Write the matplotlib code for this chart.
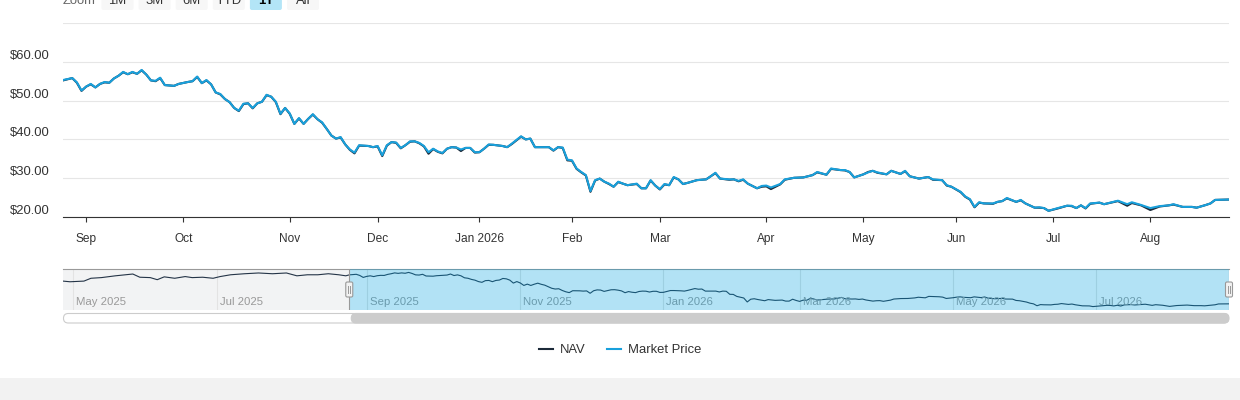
import matplotlib
matplotlib.use("Agg")
import matplotlib.pyplot as plt
from matplotlib import transforms
from matplotlib.patches import FancyBboxPatch, Rectangle

plt.rcParams["font.family"] = ["Liberation Sans", "DejaVu Sans"]

# x is the trading session number, 0 = first session of the 1Y window (ordinal axis)
session = [
    0, 2, 3, 4, 5, 6, 7, 8, 9, 10,
    11, 12, 13, 14, 15, 16, 17, 18, 19, 20,
    21, 22, 24, 25, 27, 28, 29, 30, 31, 32,
    33, 34, 35, 36, 37, 38, 39, 40, 41, 42,
    43, 44, 45, 46, 47, 48, 49, 50, 51, 52,
    53, 54, 55, 56, 57, 58, 59, 60, 61, 62,
    63, 64, 66, 67, 68, 69, 70, 71, 72, 73,
    74, 75, 76, 77, 78, 79, 80, 81, 82, 83,
    84, 85, 86, 87, 88, 89, 90, 91, 92, 93,
    95, 96, 97, 99, 100, 101, 102, 103, 105, 106,
    107, 108, 109, 110, 111, 112, 113, 114, 115, 116,
    117, 118, 119, 120, 121, 122, 124, 125, 126, 127,
    128, 129, 130, 131, 132, 133, 134, 135, 137, 139,
    140, 141, 142, 144, 145, 146, 147, 148, 150, 151,
    152, 153, 155, 156, 158, 160, 162, 163, 165, 166,
    168, 169, 170, 171, 173, 174, 175, 176, 178, 179,
    181, 182, 183, 185, 187, 188, 190, 191, 192, 194,
    195, 196, 197, 198, 199, 201, 202, 203, 204, 206,
    207, 208, 210, 211, 212, 213, 215, 217, 218, 219,
    220, 221, 222, 224, 225, 228, 230, 231, 233, 235,
    237, 239, 240, 242, 244, 245, 247, 248, 249, 252,
]

market_price = [
    55.3, 55.8, 54.7, 52.6, 53.6, 54.3, 53.4, 54.3, 54.8, 54.6,
    55.7, 56.4, 57.4, 56.8, 57.4, 56.9, 57.9, 56.7, 55.2, 55.1,
    55.9, 54.0, 53.8, 54.3, 54.8, 55.0, 56.2, 54.5, 55.3, 54.2,
    52.1, 51.7, 50.4, 49.6, 48.1, 47.4, 49.2, 49.3, 48.1, 49.3,
    49.7, 51.5, 51.0, 49.7, 46.6, 48.1, 46.7, 44.0, 45.5, 44.0,
    45.3, 46.5, 45.2, 44.4, 42.7, 41.0, 40.2, 40.6, 38.7, 37.4,
    36.6, 38.5, 38.3, 38.0, 38.3, 35.9, 38.5, 39.3, 39.2, 37.8,
    38.5, 39.5, 39.5, 39.1, 38.3, 36.7, 37.6, 36.9, 36.5, 37.6,
    38.0, 37.9, 37.4, 37.8, 37.8, 36.7, 36.7, 37.6, 38.7, 38.6,
    38.3, 38.0, 38.9, 40.8, 40.0, 40.2, 38.0, 38.0, 38.0, 37.2,
    38.0, 37.9, 34.8, 34.6, 32.5, 31.6, 30.8, 26.7, 29.5, 29.9,
    29.1, 28.6, 27.8, 29.1, 28.6, 28.2, 28.6, 27.4, 27.4, 29.5,
    28.1, 27.2, 28.5, 28.2, 30.3, 29.7, 28.5, 28.8, 29.5, 29.7,
    30.5, 31.4, 29.9, 29.7, 29.7, 29.3, 29.7, 28.6, 27.4, 28.0,
    28.1, 27.6, 28.5, 29.7, 30.1, 30.2, 30.8, 31.6, 30.9, 32.5,
    32.1, 32.1, 31.6, 30.2, 31.0, 31.5, 31.9, 31.5, 31.0, 31.9,
    31.1, 31.9, 30.5, 29.9, 30.3, 29.7, 29.5, 28.2, 27.8, 26.5,
    25.3, 24.6, 22.6, 23.8, 23.5, 23.5, 23.9, 24.1, 24.9, 23.9,
    24.4, 23.5, 22.4, 22.5, 22.3, 21.6, 22.3, 22.9, 22.9, 22.3,
    23.0, 22.3, 23.5, 23.7, 23.3, 24.2, 23.3, 23.8, 23.1, 22.3,
    22.8, 23.0, 23.3, 22.6, 22.6, 22.4, 23.1, 23.5, 24.4, 24.5,
]

nav = [
    55.2, 55.8, 54.6, 52.5, 53.6, 54.2, 53.4, 54.3, 54.7, 54.6,
    55.7, 56.4, 57.3, 56.8, 57.3, 56.9, 57.8, 56.7, 55.2, 55.0,
    55.8, 54.0, 53.8, 54.3, 54.8, 55.0, 56.1, 54.5, 55.2, 54.2,
    52.1, 51.6, 50.4, 49.6, 48.1, 47.3, 49.1, 49.3, 48.0, 49.3,
    49.7, 51.4, 51.0, 49.6, 46.5, 48.1, 46.6, 44.0, 45.4, 44.0,
    45.3, 46.4, 45.2, 44.3, 42.7, 41.0, 40.2, 40.5, 38.7, 37.3,
    36.4, 38.4, 38.3, 38.0, 38.2, 35.7, 38.4, 39.3, 39.1, 37.7,
    38.5, 39.4, 39.5, 39.0, 38.2, 36.3, 37.5, 36.8, 36.4, 37.6,
    38.0, 37.9, 37.0, 37.8, 37.8, 36.6, 36.7, 37.6, 38.6, 38.6,
    38.3, 38.0, 38.8, 40.7, 40.0, 40.2, 38.0, 38.0, 38.0, 37.1,
    38.0, 37.8, 34.6, 34.5, 32.4, 31.5, 30.7, 26.5, 29.4, 29.9,
    29.1, 28.5, 27.8, 29.0, 28.6, 28.2, 28.5, 27.4, 27.4, 29.4,
    28.1, 27.1, 28.4, 28.2, 30.2, 29.7, 28.5, 28.8, 29.5, 29.7,
    30.5, 31.3, 29.9, 29.6, 29.7, 29.2, 29.6, 28.6, 27.4, 27.8,
    27.9, 27.2, 28.4, 29.6, 30.1, 30.2, 30.8, 31.5, 30.9, 32.4,
    32.1, 32.0, 31.6, 30.2, 31.0, 31.6, 31.9, 31.4, 31.0, 31.9,
    31.1, 31.8, 30.5, 29.9, 30.3, 29.6, 29.5, 28.1, 27.8, 26.4,
    25.2, 24.5, 22.5, 23.7, 23.5, 23.4, 23.9, 24.1, 24.8, 23.9,
    24.3, 23.5, 22.4, 22.4, 22.3, 21.6, 22.2, 22.9, 22.8, 22.3,
    23.0, 22.2, 23.4, 23.7, 23.3, 24.1, 22.9, 23.6, 23.0, 21.8,
    22.7, 23.0, 23.2, 22.6, 22.6, 22.4, 23.1, 23.5, 24.4, 24.5,
]

# older NAV history, only seen in the navigator
hist_session = [-82, -80, -76, -74, -71, -67, -62, -60, -57, -55,
                -53, -50, -47, -45, -42, -39, -37, -34, -30, -26,
                -22, -18, -15, -12, -9, -6, -3, -1]
hist_nav = [48.6, 47.9, 48.6, 51.6, 52.3, 54.2, 56.1, 52.7, 52.3, 50.1,
            53.1, 51.6, 53.4, 52.3, 52.7, 51.6, 53.4, 55.3, 56.4, 57.2,
            56.4, 57.2, 54.2, 55.3, 55.3, 56.4, 55.3, 54.2]

month_session = [5, 26, 49, 68, 90, 110, 129, 152, 173, 193, 214, 235]
month_labels = ["Sep", "Oct", "Nov", "Dec", "Jan 2026", "Feb", "Mar", "Apr", "May", "Jun", "Jul", "Aug"]

nav_month_session = [-79, -38, 5, 49, 90, 129, 173, 214]
nav_month_labels = ["May 2025", "Jul 2025", "Sep 2025", "Nov 2025", "Jan 2026", "Mar 2026", "May 2026", "Jul 2026"]

price_ticks = [20, 30, 40, 50, 60, 70]
zoom_buttons = ["1M", "3M", "6M", "YTD", "1Y", "All"]
selected_button = "1Y"

NAV_COLOR = "#1c2a39"
PRICE_COLOR = "#18a0dc"
TEXT = "#333333"

W, H = 1240, 400
fig = plt.figure(figsize=(W / 100, H / 100), dpi=100)


def box(left, top, right, bottom):
    # pixel box measured from the top-left -> figure fraction rect
    return [left / W, 1 - bottom / H, (right - left) / W, (bottom - top) / H]


# main chart
ax = fig.add_axes(box(63, 23, 1229, 217))
ax.plot(session, nav, color=NAV_COLOR, lw=1.5, solid_joinstyle="round", label="NAV")
ax.plot(session, market_price, color=PRICE_COLOR, lw=1.5, solid_joinstyle="round", label="Market Price")
ax.set_xlim(session[0], session[-1])
ax.set_ylim(price_ticks[0], price_ticks[-1])
ax.set_yticks(price_ticks)
ax.yaxis.grid(True, color="#e6e6e6", lw=0.8)
ax.set_axisbelow(True)
ax.tick_params(axis="y", length=0, labelleft=False)
for side in ["top", "left", "right"]:
    ax.spines[side].set_visible(False)
ax.spines["bottom"].set_color(TEXT)
ax.spines["bottom"].set_linewidth(0.8)
ax.set_xticks(month_session, month_labels)
ax.tick_params(axis="x", length=3.8, width=0.8, color=TEXT, pad=8,
               labelsize=8.6, labelcolor=TEXT)

ylab = transforms.blended_transform_factory(fig.transFigure, ax.transData) + \
    transforms.ScaledTranslation(0, 6 / 100, fig.dpi_scale_trans)
for v in price_ticks[:-1]:
    ax.text(10 / W, v, f"\\${v:.2f}", transform=ylab, ha="left", va="center",
            fontsize=9.4, color=TEXT)

# navigator
nax = fig.add_axes(box(63, 269, 1229, 310))
nav_x = hist_session + session
nav_y = hist_nav + nav
lo, hi = min(nav_y), max(nav_y)
pad = 0.1 * (hi - lo)
nax.set_xlim(nav_x[0], nav_x[-1])
nax.set_ylim(lo - pad, hi + pad)
nax.axvspan(nav_x[0], session[0], color="#f2f3f4", lw=0, zorder=0)
for s in nav_month_session:
    nax.axvline(s, color="#e3e3e3", lw=0.8, zorder=1)
nax.plot(nav_x, nav_y, color="#243447", lw=0.8, zorder=2)
nlab = transforms.blended_transform_factory(nax.transData, nax.transAxes) + \
    transforms.ScaledTranslation(3 / 100, 0, fig.dpi_scale_trans)
for s, t in zip(nav_month_session, nav_month_labels):
    nax.text(s, 0.12, t, transform=nlab, ha="left", va="baseline",
             fontsize=8.2, color="#999999", zorder=3)
nax.axvspan(session[0], session[-1], color=(0, 161 / 255, 222 / 255), alpha=0.3, lw=0, zorder=4)
for s in (session[0], session[-1]):
    nax.axvline(s, color="#999999", lw=0.8, zorder=5)
nax.set_xticks([])
nax.set_yticks([])
for side in ["left", "right", "bottom"]:
    nax.spines[side].set_visible(False)
nax.spines["top"].set_color("#999999")
nax.spines["top"].set_linewidth(0.8)

# chrome drawn in pixel space: buttons, handles, scrollbar, footer band
over = fig.add_axes([0, 0, 1, 1], zorder=10)
over.set_xlim(0, W)
over.set_ylim(H, 0)
over.axis("off")

over.text(63, 4, "Zoom", fontsize=9.4, color="#666666", ha="left", va="baseline")
for i, b in enumerate(zoom_buttons):
    bx = 101.5 + i * 37.1
    sel = b == selected_button
    over.add_patch(FancyBboxPatch((bx, -12), 32, 22, boxstyle="round,pad=0,rounding_size=2",
                                  fc="#b3e5f7" if sel else "#f7f7f7", ec="none"))
    over.text(bx + 16, 4, b, fontsize=9.4, color="#000000" if sel else TEXT,
              fontweight="bold" if sel else "normal", ha="center", va="baseline")

x_sel0 = nax.transData.transform((session[0], 0))[0]
x_sel1 = nax.transData.transform((session[-1], 0))[0]
for hx in (x_sel0, x_sel1):
    over.add_patch(FancyBboxPatch((hx - 3.5, 282), 7, 15, boxstyle="round,pad=0,rounding_size=1.5",
                                  fc="#f2f2f2", ec="#999999", lw=0.8))
    for dx in (-1, 1):
        over.plot([hx + dx, hx + dx], [286, 293], color="#999999", lw=0.7)

over.add_patch(FancyBboxPatch((63.5, 313.5), 1165, 9.5, boxstyle="round,pad=0,rounding_size=4.7",
                              fc="white", ec="#cccccc", lw=0.8))
over.add_patch(FancyBboxPatch((x_sel0 + 2, 313.5), x_sel1 - x_sel0 - 2, 9.5,
                              boxstyle="round,pad=0,rounding_size=4.7", fc="#cccccc", ec="#cccccc", lw=0.8))

over.add_patch(Rectangle((0, 378), W, 22, fc="#f2f2f2", ec="none"))

handles, labels = ax.get_legend_handles_labels()
fig.legend(handles, labels, loc="center", bbox_to_anchor=(620 / W, 1 - 350 / H), ncol=2,
           frameon=False, fontsize=9.4, handlelength=1.1, handletextpad=0.55,
           columnspacing=1.6, labelcolor=TEXT)

fig.savefig("out.png", dpi=100)
